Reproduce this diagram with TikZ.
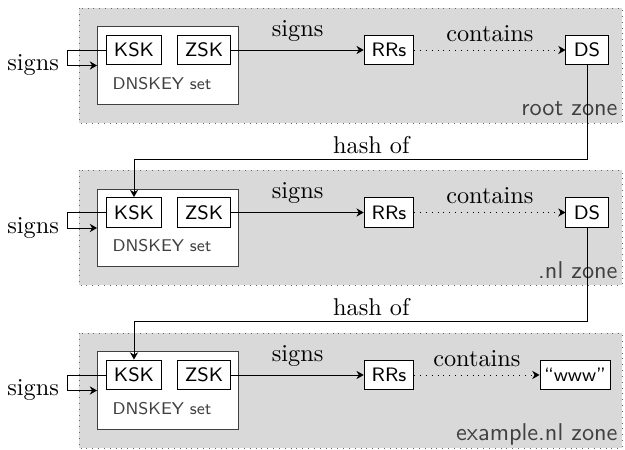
\documentclass[tikz,border=0pt]{standalone}
\usetikzlibrary{arrows.meta,calc}
\begin{document}
\begin{tikzpicture}[x=0.4115pt,y=-0.4115pt,
  zone/.style={draw=black!60, dotted, fill=black!15},
  keyset/.style={draw=black!75, fill=white, inner sep=0pt},
  box/.style={draw, fill=white, font=\sffamily\footnotesize, minimum height=12.3pt, inner sep=0pt},
  conn/.style={-{Stealth[length=3pt,width=3.4pt]}},
  setlbl/.style={font=\sffamily\scriptsize, text=black!75},
  zonelbl/.style={font=\sffamily, text=black!75, anchor=base east, inner sep=0pt},
  hashlbl/.style={above, inner sep=2pt}]
\useasboundingbox (0,0) rectangle (625,450);

% the three zones
\foreach \dy in {0,162.5,325}
  \path[zone] (79,8+\dy) rectangle (622,123+\dy);

% zone contents
\foreach \i/\dy/\tn/\tw/\tt/\zn in {1/0/ds/17.3pt/DS/root zone,
                                   2/162.5/ds/17.3pt/DS/.nl zone,
                                   3/325/www/28.8pt/“www”/example.nl zone}{
  \node[keyset, minimum width=58.2pt, minimum height=31.7pt] (dk\i) at (168.25,65.5+\dy) {};
  \node[setlbl] (set\i) at (162,83.5+\dy) {DNSKEY set};
  \node[box, minimum width=22.6pt] (ksk\i) at (134,50+\dy) {KSK};
  \node[box, minimum width=22.2pt] (zsk\i) at (204,50+\dy) {ZSK};
  \node[box, minimum width=20.4pt] (rrs\i) at (389,50+\dy) {RRs};
  \node[box, minimum width=\tw] (\tn\i) at ({\i==3 ? 575 : 587},50+\dy) {\tt};
  \node[zonelbl] (zl\i) at (618,116+\dy) {\zn};
  \draw[conn] (ksk\i.west) -- ++(-38.5,0) |- node[pos=0.5,left] {signs} (dk\i.west);
  \draw[conn] (zsk\i) -- node[above] {signs} (rrs\i);
  \draw[conn, dotted] (rrs\i) -- node[above] {contains} (\tn\i);
}

% delegation links between zones
\draw[conn] (ds1.south) |- node[pos=0.738, hashlbl] {hash of}
  ($(ksk2.north)+(0,-38)$) -- (ksk2.north);
\draw[conn] (ds2.south) |- node[pos=0.738, hashlbl] {hash of}
  ($(ksk3.north)+(0,-38)$) -- (ksk3.north);
\end{tikzpicture}
\end{document}
